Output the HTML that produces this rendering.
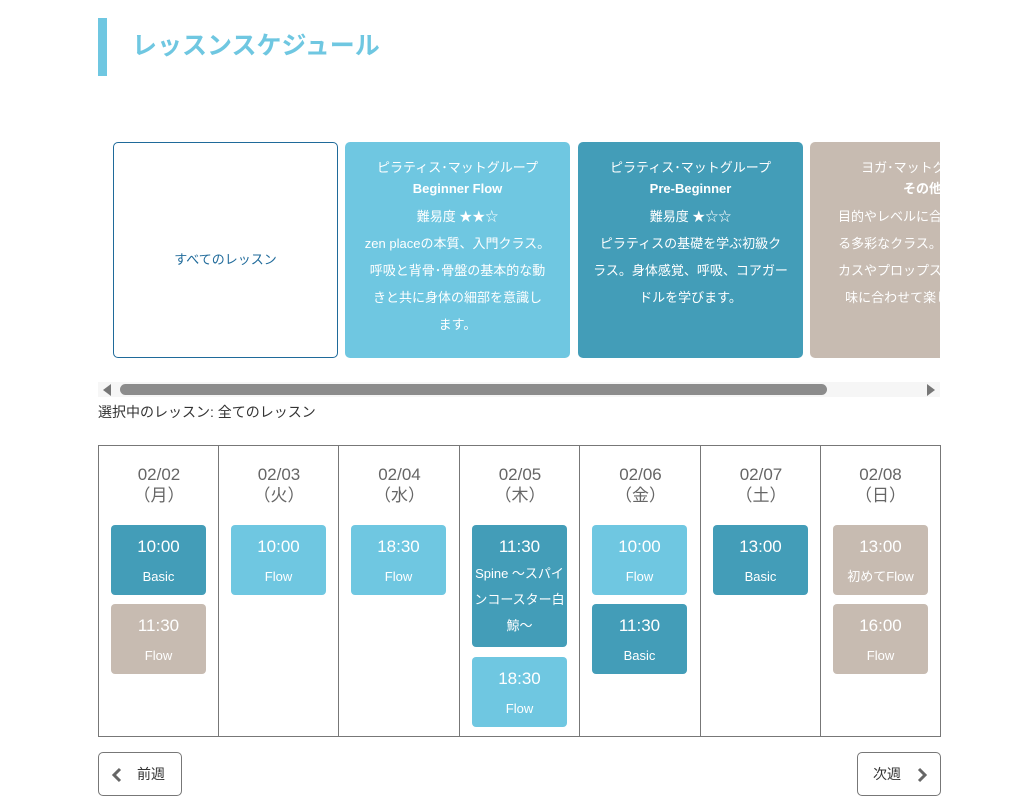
<!DOCTYPE html>
<html><head><meta charset="utf-8"><style>
*{box-sizing:border-box;margin:0;padding:0}
body{width:1011px;height:807px;background:#fff;position:relative;overflow:hidden;font-family:"Liberation Sans","Noto Sans CJK JP",sans-serif;color:#333}
.a{position:absolute}
.card{position:absolute;top:142px;height:216px;border-radius:5px;color:#fff;text-align:center;font-size:13px;line-height:27px;padding-top:12px;overflow:hidden}
.card b{display:block;line-height:18px;margin-top:-1px;margin-bottom:5px}
.lb{background:#6fc7e1}.db{background:#439db8}.bg{background:#c7bbb1}
.col{position:absolute;top:445px;height:292px;border:1px solid #777;border-right:none}
.hd{position:absolute;top:18px;left:0;right:0;text-align:center;font-size:17px;color:#666;line-height:21px}
.ev{position:absolute;left:12px;width:95px;border-radius:4px;color:#fff;text-align:center}
.ev .t{font-size:17px;line-height:20px;margin-top:12px}
.ev .n{font-size:13px;line-height:26px;margin-top:7px}
.btn{position:absolute;top:752px;height:44px;border:1px solid #777;border-radius:5px;font-size:14px;line-height:42px;color:#333}
</style></head><body>
<div class="a" style="left:98px;top:18px;width:9px;height:58px;background:#6fc7e1"></div>
<div class="a" style="left:132px;top:29px;font-size:25px;font-weight:bold;color:#6fc7e1;line-height:34px">レッスンスケジュール</div>

<div class="card" style="left:113px;width:225px;border:1px solid #1f6a9a;color:#1f6a9a;background:#fff;padding-top:0;line-height:234px">すべてのレッスン</div>
<div class="card lb" style="left:345px;width:225px">ピラティス･マットグループ<br><b>Beginner Flow</b>難易度 ★★☆<br>zen placeの本質、入門クラス。<br>呼吸と背骨･骨盤の基本的な動<br>きと共に身体の細部を意識し<br>ます。</div>
<div class="card db" style="left:578px;width:225px">ピラティス･マットグループ<br><b>Pre-Beginner</b>難易度 ★☆☆<br>ピラティスの基礎を学ぶ初級ク<br>ラス。身体感覚、呼吸、コアガー<br>ドルを学びます。</div>
<div class="a" style="left:810px;top:142px;width:130px;height:216px;overflow:hidden">
<div class="card bg" style="left:0;top:0;width:225px">ヨガ･マットグループ<br><b>その他</b>目的やレベルに合わせて選べ<br>る多彩なクラス。部位フォー<br>カスやプロップス使用など興<br>味に合わせて楽しめます。</div></div>

<div class="a" style="left:98px;top:382px;width:842px;height:15px;background:#f6f6f6"></div>
<div class="a" style="left:103px;top:384px;width:0;height:0;border-top:6px solid transparent;border-bottom:6px solid transparent;border-right:8px solid #777"></div>
<div class="a" style="left:120px;top:384px;width:707px;height:11px;border-radius:6px;background:#8c8c8c"></div>
<div class="a" style="left:927px;top:384px;width:0;height:0;border-top:6px solid transparent;border-bottom:6px solid transparent;border-left:8px solid #777"></div>
<div class="a" style="left:98px;top:403px;font-size:14px;line-height:18px;color:#333">選択中のレッスン: 全てのレッスン</div>

<div class="col" style="left:98px;width:121px"><div class="hd">02/02<br>（月）</div>
<div class="ev db" style="top:79px;height:70px"><div class="t">10:00</div><div class="n">Basic</div></div>
<div class="ev bg" style="top:158px;height:70px"><div class="t">11:30</div><div class="n">Flow</div></div></div>
<div class="col" style="left:218px;width:121px"><div class="hd">02/03<br>（火）</div>
<div class="ev lb" style="top:79px;height:70px"><div class="t">10:00</div><div class="n">Flow</div></div></div>
<div class="col" style="left:338px;width:122px"><div class="hd">02/04<br>（水）</div>
<div class="ev lb" style="top:79px;height:70px"><div class="t">18:30</div><div class="n">Flow</div></div></div>
<div class="col" style="left:459px;width:121px"><div class="hd">02/05<br>（木）</div>
<div class="ev db" style="top:79px;height:122px"><div class="t">11:30</div><div class="n" style="margin-top:4px">Spine ～スパイ<br>ンコースター白<br>鯨～</div></div>
<div class="ev lb" style="top:211px;height:70px"><div class="t">18:30</div><div class="n">Flow</div></div></div>
<div class="col" style="left:579px;width:122px"><div class="hd">02/06<br>（金）</div>
<div class="ev lb" style="top:79px;height:70px"><div class="t">10:00</div><div class="n">Flow</div></div>
<div class="ev db" style="top:158px;height:70px"><div class="t">11:30</div><div class="n">Basic</div></div></div>
<div class="col" style="left:700px;width:121px"><div class="hd">02/07<br>（土）</div>
<div class="ev db" style="top:79px;height:70px"><div class="t">13:00</div><div class="n">Basic</div></div></div>
<div class="col" style="left:820px;width:121px;border-right:1px solid #777"><div class="hd">02/08<br>（日）</div>
<div class="ev bg" style="top:79px;height:70px"><div class="t">13:00</div><div class="n">初めてFlow</div></div>
<div class="ev bg" style="top:158px;height:70px"><div class="t">16:00</div><div class="n">Flow</div></div></div>

<div class="btn" style="left:98px;width:84px;padding-left:38px">前週
<svg class="a" style="left:12px;top:14px" width="12" height="16"><path d="M9 2 L3 8 L9 14" stroke="#666" stroke-width="3" fill="none"/></svg></div>
<div class="btn" style="left:857px;width:84px;padding-left:15px">次週
<svg class="a" style="left:58px;top:14px" width="12" height="16"><path d="M3 2 L9 8 L3 14" stroke="#666" stroke-width="3" fill="none"/></svg></div>
</body></html>
